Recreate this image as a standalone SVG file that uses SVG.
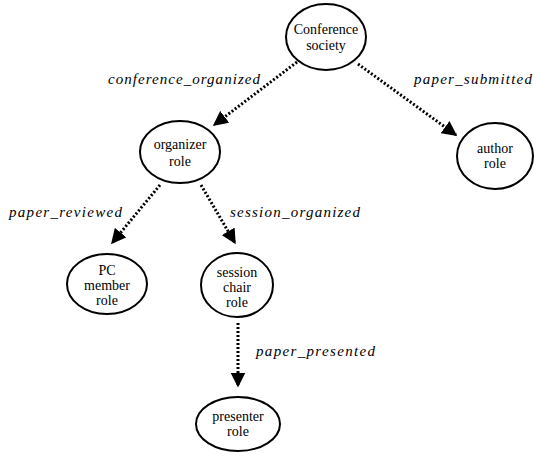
<svg xmlns="http://www.w3.org/2000/svg" width="534" height="461" viewBox="0 0 534 461">
<style>
.node ellipse{fill:#fff;stroke:#000;stroke-width:2}
.node text{font-size:14px;text-anchor:middle;fill:#000}
.edge{stroke:#000;stroke-width:3;stroke-dasharray:2 2;fill:none;marker-end:url(#ah)}
.lbl{font-size:15px;font-style:italic;fill:#000}
</style>
<defs>
<marker id="ah" markerWidth="5" markerHeight="5" refX="4.5" refY="2.5" orient="auto" markerUnits="strokeWidth">
<path d="M0,0 L5,2.5 L0,5 Z" fill="#000"/>
</marker>
</defs>
<rect width="534" height="461" fill="#fff"/>
<g id="connectors">
<path class="edge" d="M297,62 L214,125"/>
<path class="edge" d="M358,64 L456,135"/>
<path class="edge" d="M160,185 L112,243"/>
<path class="edge" d="M201,185 L235,243"/>
<path class="edge" d="M238,323 L238,386"/>
</g>
<g id="labels" font-family="Liberation Serif, DejaVu Serif, serif">
<text class="lbl" x="108" y="84" textLength="152" lengthAdjust="spacing">conference_organized</text>
<text class="lbl" x="414" y="84" textLength="118" lengthAdjust="spacing">paper_submitted</text>
<text class="lbl" x="9" y="217" textLength="113" lengthAdjust="spacing">paper_reviewed</text>
<text class="lbl" x="230" y="217" textLength="130" lengthAdjust="spacing">session_organized</text>
<text class="lbl" x="256" y="356" textLength="119" lengthAdjust="spacing">paper_presented</text>
</g>
<g id="nodes" font-family="Liberation Serif, DejaVu Serif, serif">
<g id="conference" class="node">
<ellipse cx="326" cy="37" rx="40" ry="33"/>
<text x="326" y="34">Conference</text>
<text x="326" y="50">society</text>
</g>
<g id="organizer" class="node">
<ellipse cx="180" cy="152" rx="40" ry="31"/>
<text x="180" y="149">organizer</text>
<text x="180" y="166">role</text>
</g>
<g id="author" class="node">
<ellipse cx="495" cy="156" rx="38" ry="33"/>
<text x="495" y="153">author</text>
<text x="495" y="168">role</text>
</g>
<g id="pcmember" class="node">
<ellipse cx="107" cy="284" rx="40" ry="30"/>
<text x="107" y="275">PC</text>
<text x="107" y="290">member</text>
<text x="107" y="305">role</text>
</g>
<g id="sessionchair" class="node">
<ellipse cx="237" cy="285" rx="36" ry="32"/>
<text x="237" y="277">session</text>
<text x="237" y="292">chair</text>
<text x="237" y="307">role</text>
</g>
<g id="presenter" class="node">
<ellipse cx="238" cy="424" rx="42" ry="27"/>
<text x="238" y="421">presenter</text>
<text x="238" y="436">role</text>
</g>
</g>
</svg>
